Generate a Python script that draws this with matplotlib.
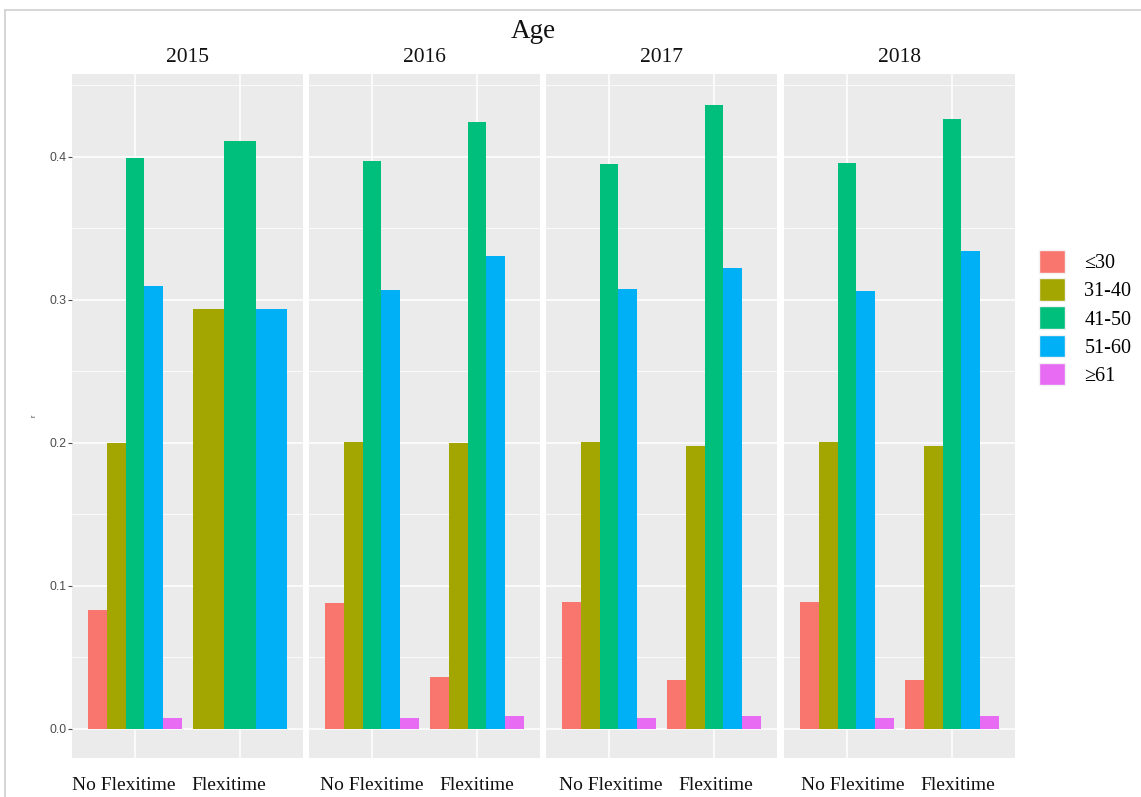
import numpy as np
import matplotlib
matplotlib.use("Agg")
import matplotlib.pyplot as plt
from matplotlib.patches import Patch
from matplotlib.lines import Line2D
from matplotlib.transforms import ScaledTranslation

# ---- data ----
years = ['2015', '2016', '2017', '2018']
groups = ['No Flexitime', 'Flexitime']
ages = ['≤30', '31-40', '41-50', '51-60', '≥61']
nan = np.nan
# order: 2015 NoFlex, 2015 Flex, 2016 NoFlex, 2016 Flex, ...
age_le30 = [0.083, nan, 0.088, 0.036, 0.089, 0.034, 0.089, 0.034]
age_31_40 = [0.200, 0.294, 0.201, 0.200, 0.201, 0.198, 0.201, 0.198]
age_41_50 = [0.399, 0.411, 0.397, 0.4245, 0.395, 0.436, 0.396, 0.4265]
age_51_60 = [0.310, 0.294, 0.307, 0.331, 0.3075, 0.3225, 0.306, 0.334]
age_ge61 = [0.008, nan, 0.008, 0.009, 0.008, 0.009, 0.008, 0.009]
series = [age_le30, age_31_40, age_41_50, age_51_60, age_ge61]
colors = ['#F8766D', '#A3A500', '#00BF7D', '#00B0F6', '#E76BF3']

SERIF = ['Liberation Serif', 'DejaVu Serif']
SANS = ['Liberation Sans', 'DejaVu Sans']

W, H = 1141, 797
fig = plt.figure(figsize=(W / 100, H / 100), dpi=100)
fig.patch.set_facecolor('white')

# screenshot frame lines
fig.add_artist(Line2D([5 / W, 1], [1 - 10 / H, 1 - 10 / H], color='#CFCFCF', lw=1.2, transform=fig.transFigure))
fig.add_artist(Line2D([5 / W, 5 / W], [0, 1 - 10 / H], color='#CFCFCF', lw=1.2, transform=fig.transFigure))

panel_left = [72, 309, 546, 784]
panel_w = 231
top_px, bot_px = 74, 758
label_shift = [-11, 0, 2, 6]

for p, yr in enumerate(years):
    ax = fig.add_axes([panel_left[p] / W, (H - bot_px) / H, panel_w / W, (bot_px - top_px) / H])
    ax.set_facecolor('#EBEBEB')
    for s in ax.spines.values():
        s.set_visible(False)
    ax.set_xlim(0.4, 2.6)
    ax.set_ylim(-0.0203, 0.458)
    ax.set_yticks([0.0, 0.1, 0.2, 0.3, 0.4])
    ax.set_yticks([0.05, 0.15, 0.25, 0.35, 0.45], minor=True)
    ax.set_xticks([1, 2])
    ax.grid(True, which='major', color='white', lw=1.1)
    ax.grid(True, which='minor', axis='y', color='white', lw=0.55)
    ax.set_axisbelow(True)

    for g in range(2):
        idx = p * 2 + g
        present = [k for k in range(len(series)) if not np.isnan(series[k][idx])]
        n = len(present)
        w = 0.9 / n
        for i, k in enumerate(present):
            x = (g + 1) - 0.45 + w * (i + 0.5)
            ax.bar(x, series[k][idx], width=w, color=colors[k], linewidth=0, zorder=2)

    ax.set_xticklabels(groups, fontsize=14, family=SERIF, color='#111111')
    ax.tick_params(axis='x', length=0, pad=14)
    offset = ScaledTranslation(label_shift[p] / 100, 0, fig.dpi_scale_trans)
    for lab in ax.get_xticklabels():
        lab.set_transform(lab.get_transform() + offset)

    if p == 0:
        ax.set_yticklabels(['0.0', '0.1', '0.2', '0.3', '0.4'], fontsize=8.8, family=SANS, color='#4D4D4D')
        ax.tick_params(axis='y', which='major', length=2.7, width=0.8, color='#4D4D4D', pad=1.5)
        ax.tick_params(axis='y', which='minor', length=0)
        ax.set_ylabel('r', fontsize=5, family=SANS, color='#333333', labelpad=8)
    else:
        ax.tick_params(axis='y', which='both', length=0, labelleft=False)

    ax.set_title(yr, fontsize=15.5, family=SERIF, color='#111111', pad=8.5)

fig.text(533 / W, 1 - 38 / H, 'Age', fontsize=19.5, family=SERIF, color='#111111',
         ha='center', va='baseline')

handles = [Patch(facecolor=c, edgecolor='#F2F2F2', linewidth=1.0) for c in colors]
fig.legend(handles, ages, loc='center left', bbox_to_anchor=(1039 / W, 1 - 318 / H),
           frameon=False, prop={'family': SERIF, 'size': 14.5}, handlelength=1.3, handleheight=1.35,
           labelspacing=0.25, handletextpad=0.95, borderpad=0, borderaxespad=0)

fig.savefig('out.png', dpi=100, facecolor='white')
